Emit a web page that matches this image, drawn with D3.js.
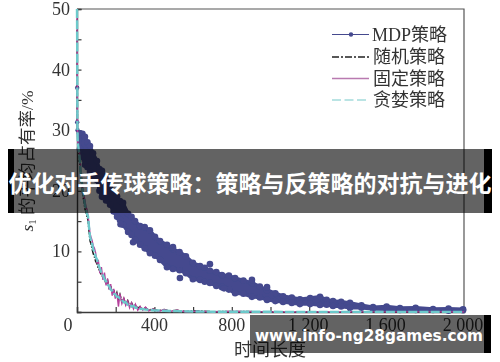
<!DOCTYPE html>
<html><head><meta charset="utf-8">
<script src="https://cdn.jsdelivr.net/npm/d3@7/dist/d3.min.js"></script>
<style>html,body{margin:0;padding:0;background:#fff}svg{display:block}
text{font-family:"Liberation Serif","Noto Sans CJK SC",serif}</style>
</head><body><svg id="c" width="500" height="362"></svg>
<script>
const xTickValues=[0,200,400,600,800,1000,1200,1400,1600,1800,2000];
const xTickLabels=[["0",-9],["400",0],["800",0],["1 200",0],["1 600",0],["2 000",0]];
const xLabelTimes=[0,400,800,1200,1600,2000];
const yTickValues=[0,5,10,15,20,25,30,35,40,45,50];
const yLabelValues=[10,20,30,40,50];
const legendNames=["MDP策略","随机策略","固定策略","贪婪策略"];
const titleText="优化对手传球策略：策略与反策略的对抗与进化";
const watermarkText="www.info-ng28games.com";

const mdpEarlyTime=[1,1,3,15];
const mdpEarlyShare=[37,31.3,30,29.5];
const mdpOutlierTime=[532,687,290,496,982,904,225,760];
const mdpOutlierShare=[5.6,7.9,11.5,10.7,4.1,5.3,14.5,3.9];
const mdpTime=[15,28,41,54,67,83,103,116,129,150,171,189,207,222,238,264,282,300,326,350,377,403,429,465,496,530,563,599,636,660,687,720,749,785,817,860,904,945,982,1025,1065,1110,1152,1205,1256,1290,1323,1365,1411,1470,1530,1600,1669,1750,1840,1920,1995];
const mdpUpper=[29.5,29.4,28.9,28.0,27.4,26.2,24.9,23.6,23.3,22.0,21.0,19.8,19.1,18.3,18.0,16.2,15.7,15.0,14.2,14.0,13.5,12.4,11.7,11.1,10.4,9.9,9.2,8.1,7.6,7.3,6.8,6.6,6.1,6.0,5.6,5.2,4.8,4.2,3.6,3.1,2.6,2.4,2.1,2.3,2.5,2.0,1.8,1.7,1.5,1.1,0.8,0.9,0.66,0.7,0.5,0.55,0.45];
const mdpLower=[26.9,25.6,24.3,23.9,23.1,22.3,21.8,20.0,19.0,18.4,17.7,16.6,15.7,15.2,14.4,13.2,12.7,11.9,11.1,10.5,9.7,9.3,8.6,7.4,7.1,6.9,6.4,5.4,5.3,5.0,4.8,4.3,4.1,3.7,3.1,3.0,2.5,2.4,2.0,1.8,1.65,1.5,1.3,1.3,1.15,1.2,1.0,0.9,0.7,0.7,0.5,0.45,0.33,0.35,0.33,0.2,0.3];

const curveTime=[0,1,1.5,2,4,12,16,20,26,31,36,41,46,52,57,62,67,72,78,84,90,96,103,110,118,126,134,142,150,158,166,174,182,190,198,206,214,222,232,242,252,262,272,282,292,302,314,326,340,354,370,393,420,450,480,517,560,620,700,800,1000,1200,1400,1600,1800,2000];
const randomShare=[50,44,38,31,28,25.5,24,22,20.5,19,18.2,17,16.6,15.6,15.2,13.4,11.8,11.3,10.4,9.6,9.1,8.4,8.0,7.2,6.8,6.0,5.9,5.6,4.6,5.2,4.0,4.3,3.2,3.7,2.5,3.2,2.1,2.9,1.7,2.2,1.3,1.9,1.0,1.5,0.8,1.2,0.6,0.9,0.4,0.7,0.3,0.5,0.2,0.4,0.15,0.3,0.1,0.2,0.05,0.1,0.03,0.02,0.02,0.02,0.02,0.02];
const fixedShare=[50,44,38,31,28,26.5,25,23,21.5,20,19.2,18.4,17.4,16.9,15.9,14.6,13,12.4,11.8,10.9,10.5,9.8,8.0,8.6,6.4,7.4,5.3,6.5,4.4,5.5,3.7,4.6,2.7,3.8,2.2,3.2,0.9,3.0,1.4,2.3,1.1,1.8,0.7,1.5,0.5,1.3,0.3,0.9,0.3,0.8,0.2,0.5,0.1,0.4,0.1,0.3,0.05,0.15,0.02,0.1,0.02,0.02,0.02,0.02,0.02,0.02];
const greedyShare=[50,44,38,31,28,26,24.5,22.5,21.2,19.6,18.8,17.7,17.1,16.2,15.8,14,12.5,11.8,11.3,10.3,10,9.1,8.7,7.8,7.2,6.5,6.1,5.4,5.1,4.5,4.3,3.7,3.5,3,2.9,2.5,2.5,2.2,2,1.6,1.6,1.2,1.3,0.9,1,0.7,0.7,0.5,0.5,0.4,0.36,0.3,0.25,0.2,0.17,0.15,0.1,0.08,0.05,0.04,0.03,0.02,0.02,0.02,0.02,0.02];

const svg=d3.select("#c");
const defs=svg.append("defs");
defs.append("filter").attr("id","soft").attr("x","-5%").attr("y","-5%").attr("width","110%").attr("height","110%")
  .append("feGaussianBlur").attr("stdDeviation",0.5);
const chart=svg.append("g").attr("filter","url(#soft)");

const x=d3.scaleLinear().domain([0,2000]).range([77,464]);
const y=d3.scaleLinear().domain([0,50]).range([312,9]);
const axisDark="#3a3a3a", inkText="#333333", mdpColor="#44498e";

// Frame
chart.append("path").attr("fill","none").attr("stroke","#555").attr("stroke-width",1.2)
  .attr("d",d3.line()([[x(0),y(50)],[x(2000),y(50)],[x(2000),y(0)]]));

// Axes
const xAxis=d3.axisBottom(x).tickValues(xTickValues).tickSize(-5).tickFormat("");
const yAxis=d3.axisLeft(y).tickValues(yTickValues).tickSize(-4.5).tickFormat("");
const gx=chart.append("g").attr("transform",`translate(0,${y(0)})`).call(xAxis);
const gy=chart.append("g").attr("transform",`translate(${x(0)},0)`).call(yAxis);
[gx,gy].forEach(g=>{g.select(".domain").attr("stroke",axisDark).attr("stroke-width",1.4);g.selectAll("line").attr("stroke",axisDark).attr("stroke-width",1.2);});

// MDP band
const rows=d3.range(mdpTime.length);
chart.append("path").attr("fill",mdpColor).attr("stroke",mdpColor).attr("stroke-width",3.5).attr("stroke-linejoin","round")
  .attr("d",d3.area().x(i=>x(mdpTime[i])).y0(i=>y(mdpLower[i])).y1(i=>y(mdpUpper[i]))(rows));
chart.append("path").attr("fill","none").attr("stroke",mdpColor).attr("stroke-width",1)
  .attr("d",d3.line().x(i=>x(mdpEarlyTime[i])).y(i=>y(mdpEarlyShare[i]))(d3.range(mdpEarlyTime.length)));
const dots=[
  ...rows.map(i=>[mdpTime[i],mdpUpper[i]]),
  ...rows.map(i=>[mdpTime[i],mdpLower[i]]),
  ...mdpOutlierTime.map((t,i)=>[t,mdpOutlierShare[i]]),
  ...mdpEarlyTime.map((t,i)=>[t,mdpEarlyShare[i]])
];
chart.append("g").attr("fill",mdpColor).selectAll("circle").data(dots).join("circle")
  .attr("cx",d=>x(d[0])).attr("cy",d=>y(d[1])).attr("r",(d,i)=>i>=dots.length-4?2.2:3.3);

// Competing strategies
const strategyLine=s=>d3.line().x((d,i)=>x(curveTime[i])).y((d,i)=>y(s[i]))(s);
chart.append("path").attr("d",strategyLine(randomShare)).attr("fill","none").attr("stroke","#1c1c1c").attr("stroke-width",1.5).attr("stroke-dasharray","6 1.5 1.5 1.5");
chart.append("path").attr("d",strategyLine(fixedShare)).attr("fill","none").attr("stroke","#b6409c").attr("stroke-width",1.4);
chart.append("path").attr("d",strategyLine(greedyShare)).attr("fill","none").attr("stroke","#6cc9cb").attr("stroke-width",2.4).attr("stroke-dasharray","9 2.2");

// Tick labels
chart.append("g").selectAll("text").data(xLabelTimes).join("text")
  .attr("x",(d,i)=>x(d)+xTickLabels[i][1]-(d>=1200?1:0)).attr("y",331).attr("text-anchor","middle")
  .attr("font-size",18).attr("fill",inkText).text((d,i)=>xTickLabels[i][0]);
chart.append("g").selectAll("text").data(yLabelValues).join("text")
  .attr("x",70).attr("y",d=>y(d)+6).attr("text-anchor","end")
  .attr("font-size",18).attr("fill",inkText).text(d=>d);

// Axis titles
chart.append("text").attr("x",270).attr("y",356).attr("text-anchor","middle").attr("font-size",18).attr("fill",inkText).text("时间长度");
const yt=chart.append("text").attr("transform","translate(33,161) rotate(-90)").attr("text-anchor","middle").attr("font-size",17.5).attr("fill",inkText);
yt.append("tspan").attr("font-style","italic").text("s");
yt.append("tspan").attr("font-size",11).attr("dy",3).text("1");
yt.append("tspan").attr("dy",-3).text(" 的平均占有率/%");

// Legend
const legendRows=[34.5,57,78.5,100];
const legendStyles=[[mdpColor,"none",1.2],["#222","7 2 2 2",1.3],["#b97ab0","none",1.3],["#a4dcdc","9 3.5",1.4]];
const lg=chart.append("g").selectAll("g").data(legendNames).join("g").attr("transform",(d,i)=>`translate(0,${legendRows[i]})`);
lg.append("line").attr("x1",332).attr("x2",369).attr("stroke",(d,i)=>legendStyles[i][0]).attr("stroke-dasharray",(d,i)=>legendStyles[i][1]).attr("stroke-width",(d,i)=>legendStyles[i][2]);
lg.filter((d,i)=>i===0).append("circle").attr("cx",351).attr("r",2.2).attr("fill",mdpColor);
lg.append("text").attr("x",(d,i)=>i===0?372:373).attr("y",6).attr("font-size",18).attr("fill",inkText).text(d=>d);

// Banner overlays
const overlay=svg.append("g");
overlay.append("rect").attr("x",8).attr("y",149).attr("width",6).attr("height",64).attr("fill","#000");
overlay.append("rect").attr("x",484).attr("y",149).attr("width",8).attr("height",64).attr("fill","#000");
overlay.append("rect").attr("x",14).attr("y",149).attr("width",470).attr("height",64).attr("fill","#000").attr("opacity",0.61);
overlay.append("rect").attr("x",484).attr("y",315).attr("width",7).attr("height",38).attr("fill","#000");
overlay.append("rect").attr("x",250).attr("y",315).attr("width",234).attr("height",38).attr("fill","#000").attr("opacity",0.61);
overlay.append("text").attr("x",250).attr("y",192).attr("text-anchor","middle")
  .style("font-family",'"Noto Sans CJK SC",sans-serif').attr("font-weight",700).attr("font-size",23).attr("fill","#fff").text(titleText);
overlay.append("text").attr("x",369).attr("y",341).attr("text-anchor","middle")
  .style("font-family",'"DejaVu Sans",sans-serif').attr("font-weight",700).attr("font-size",15.3).attr("fill","#fff").text(watermarkText);
</script></body></html>
